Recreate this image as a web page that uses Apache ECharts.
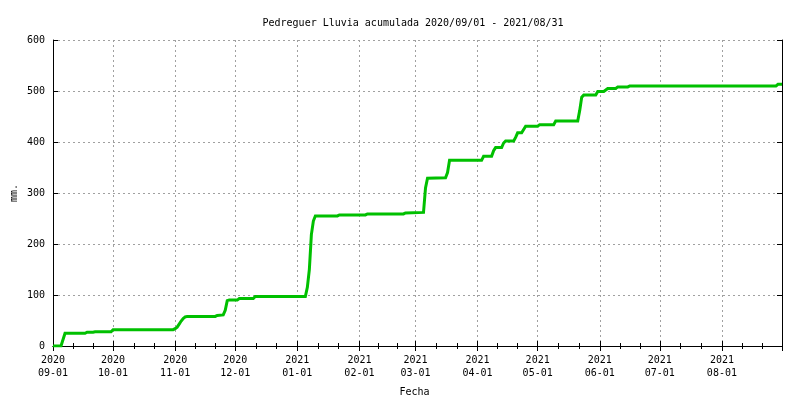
<!DOCTYPE html>
<html>
<head>
<meta charset="utf-8">
<script src="https://cdn.jsdelivr.net/npm/echarts@6/dist/echarts.min.js"></script>
<style>html,body{margin:0;padding:0;background:#fff}#c{width:800px;height:400px}</style>
</head>
<body>
<div id="c"></div>
<script>
// Cumulative rainfall knots (date, mm)
var dates = [
  '2020-09-01','2020-09-05','2020-09-07','2020-09-17','2020-09-18','2020-09-21','2020-09-22','2020-09-30',
  '2020-10-01','2020-10-31','2020-11-01','2020-11-02','2020-11-03','2020-11-04','2020-11-05','2020-11-06',
  '2020-11-07','2020-11-21','2020-11-22','2020-11-25','2020-11-26','2020-11-27','2020-11-28','2020-12-02',
  '2020-12-03','2020-12-10','2020-12-11','2021-01-05','2021-01-06','2021-01-07','2021-01-08','2021-01-09',
  '2021-01-10','2021-01-21','2021-01-22','2021-02-04','2021-02-05','2021-02-23','2021-02-24','2021-03-05',
  '2021-03-06','2021-03-07','2021-03-16','2021-03-17','2021-03-18','2021-04-03','2021-04-04','2021-04-08',
  '2021-04-09','2021-04-10','2021-04-13','2021-04-14','2021-04-15','2021-04-19','2021-04-20','2021-04-21',
  '2021-04-23','2021-04-25','2021-05-01','2021-05-02','2021-05-09','2021-05-10','2021-05-21','2021-05-22',
  '2021-05-23','2021-05-24','2021-05-30','2021-05-31','2021-06-03','2021-06-05','2021-06-09','2021-06-10',
  '2021-06-15','2021-06-16','2021-08-28','2021-08-29','2021-08-31'
];
var rain = [
  0,0,25,25,27,27,28,28,
  32,32,34,37,43,49,54,57,
  58,58,60,61,70,89,90,90,
  93,93,97,97,115,150,218,245,
  255,255,257,257,259,259,261,262,
  310,329,330,340,364,364,372,372,
  383,389,389,398,402,402,409,418,
  418,431,431,434,434,441,441,462,
  488,492,492,499,499,505,505,508,
  508,510,510,513,513
];
var yTicks = [0,100,200,300,400,500,600];
var xStart = '2020-09-01', xEnd = '2021-08-31';
var titleText = 'Pedreguer Lluvia acumulada 2020/09/01 - 2021/08/31';

function ts(s){var p=s.split('-');return Date.UTC(+p[0],+p[1]-1,+p[2]);}
function pad(n){return (n<10?'0':'')+n;}
var seriesData = dates.map(function(d,i){return [ts(d), rain[i]];});

var FONT = 'DejaVu Sans Mono';
var axisLineStyle = {color:'#000', width:1};
var chart = echarts.init(document.getElementById('c'), null, {renderer:'canvas'});
chart.setOption({
  animation:false,
  useUTC:true,
  backgroundColor:'#fff',
  title:{text:titleText, left:408, top:13, textAlign:'center',
    textStyle:{fontFamily:FONT, fontSize:10, fontWeight:'normal', color:'#000'}},
  grid:{left:53, right:18, top:40, bottom:54, containLabel:false, outerBoundsMode:'none'},
  xAxis:[{
    type:'time', min:ts(xStart), max:ts(xEnd), splitNumber:12,
    minInterval:28*86400000, maxInterval:31*86400000,
    name:'Fecha', nameLocation:'middle', nameGap:41,
    nameTextStyle:{fontFamily:FONT, fontSize:10, color:'#000', padding:[0,6,0,0]},
    axisLine:{show:true, lineStyle:axisLineStyle},
    axisTick:{show:true, inside:true, length:5, lineStyle:{color:'#000'}},
    minorTick:{show:true, splitNumber:3, length:3, lineStyle:{color:'#000'}},
    splitLine:{show:true, lineStyle:{color:'#a0a0a0', type:[2,3], width:1}},
    axisLabel:{fontFamily:FONT, fontSize:10, color:'#000', lineHeight:13, margin:8,
      showMinLabel:true, showMaxLabel:false, hideOverlap:false,
      formatter:function(v){var d=new Date(v); if(d.getUTCDate()!==1) return '';
        return d.getUTCFullYear()+'\n'+pad(d.getUTCMonth()+1)+'-'+pad(d.getUTCDate());}}
  },{
    type:'time', position:'top', min:ts(xStart), max:ts(xEnd), splitNumber:12,
    minInterval:28*86400000, maxInterval:31*86400000,
    axisLine:{show:true, lineStyle:axisLineStyle},
    axisTick:{show:true, inside:true, length:5, lineStyle:{color:'#000'}},
    minorTick:{show:true, splitNumber:3, length:3, lineStyle:{color:'#000'}},
    splitLine:{show:false}, axisLabel:{show:false}
  }],
  yAxis:[{
    type:'value', min:yTicks[0], max:yTicks[yTicks.length-1], interval:100,
    name:'mm.', nameLocation:'middle', nameGap:34, nameMoveOverlap:false,
    nameTextStyle:{fontFamily:FONT, fontSize:10, color:'#000'},
    axisLine:{show:true, lineStyle:axisLineStyle},
    axisTick:{show:true, inside:true, length:5, lineStyle:{color:'#000'}},
    splitLine:{show:true, lineStyle:{color:'#a0a0a0', type:[2,3], width:1}},
    axisLabel:{fontFamily:FONT, fontSize:10, color:'#000', margin:8}
  },{
    type:'value', position:'right', min:yTicks[0], max:yTicks[yTicks.length-1], interval:100,
    axisLine:{show:true, lineStyle:axisLineStyle},
    axisTick:{show:true, inside:true, length:5, lineStyle:{color:'#000'}},
    splitLine:{show:false}, axisLabel:{show:false}
  }],
  series:[{
    type:'line', xAxisIndex:0, yAxisIndex:0, data:seriesData,
    showSymbol:false, symbol:'none',
    lineStyle:{color:'#00c000', width:3, join:'miter'},
    z:5
  }]
});
</script>
</body>
</html>
